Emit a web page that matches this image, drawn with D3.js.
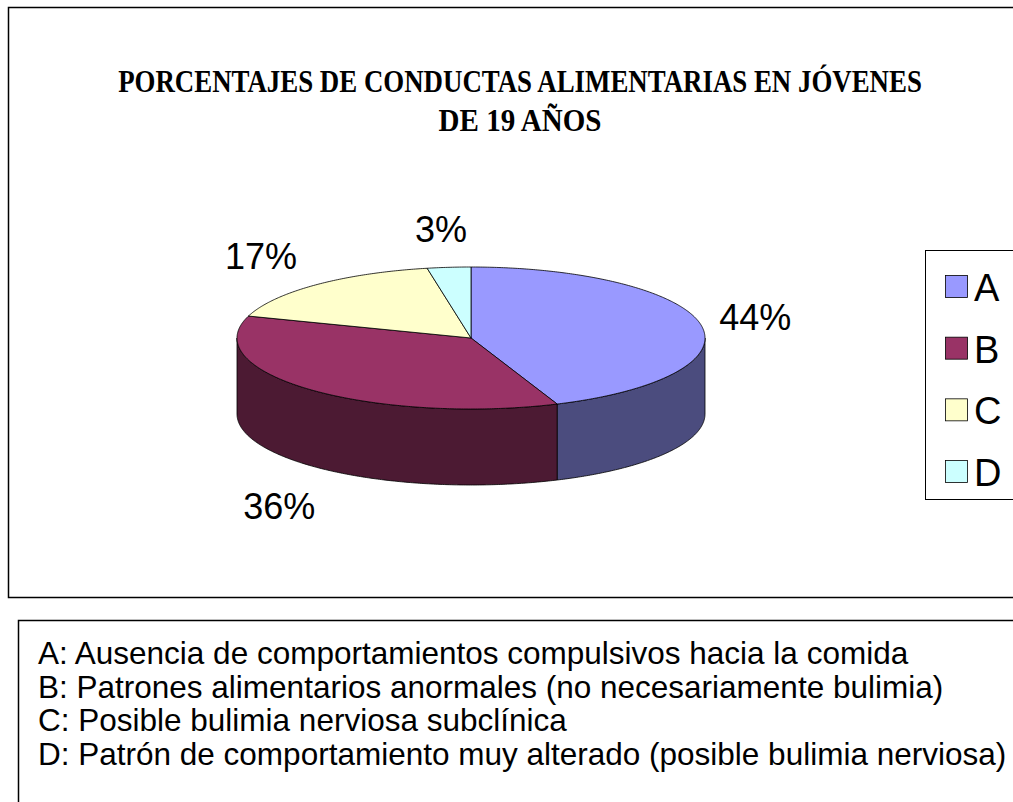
<!DOCTYPE html>
<html>
<head>
<meta charset="utf-8">
<script src="https://cdn.jsdelivr.net/npm/d3@7"></script>
<style>
  body { margin: 0; background: #fff; }
  svg { display: block; }
</style>
</head>
<body>
<script>
// data
var categories = ["A", "B", "C", "D"];
var values = [44, 36, 17, 3];
var topColors = ["#9999ff", "#993366", "#ffffcc", "#ccffff"];
var sideColors = ["#4b4c7e", "#4c1a33", "#80805f", "#668080"];
var titleLines = ["PORCENTAJES DE CONDUCTAS ALIMENTARIAS EN JÓVENES", "DE 19 AÑOS"];
var notes = [
  "A: Ausencia de comportamientos compulsivos hacia la comida",
  "B: Patrones alimentarios anormales (no necesariamente bulimia)",
  "C: Posible bulimia nerviosa subclínica",
  "D: Patrón de comportamiento muy alterado (posible bulimia nerviosa)"
];

var width = 1013, height = 802;

var svg = d3.select("body").append("svg")
  .attr("width", width)
  .attr("height", height);

// chart frame
svg.append("rect")
  .attr("x", 8.5).attr("y", 7.5)
  .attr("width", 1020).attr("height", 590)
  .attr("fill", "#fff").attr("stroke", "#000").attr("stroke-width", 1.5);

// title (condensed bold serif): squeeze horizontally to the width seen
var titleWidths = [804, 163];
svg.selectAll(".title")
  .data(titleLines)
  .enter().append("text")
  .attr("class", "title")
  .attr("text-anchor", "middle")
  .style("font-family", "'Liberation Serif', 'Times New Roman', serif")
  .style("font-weight", "bold")
  .style("font-size", "31px")
  .text(function(d) { return d; })
  .each(function(d, i) {
    var w = this.getComputedTextLength();
    var sx = titleWidths[i] / w;
    d3.select(this).attr("transform",
      "translate(520," + (92 + i * 39) + ") scale(" + sx + ",1)");
  });

// 3D pie
var cx = 471, cy = 338, rx = 234, ry = 71, depth = 76;

var pie = d3.pie().sort(null).value(function(d) { return d; });
var arcs = pie(values);

function pt(a, dy) {
  return [cx + rx * Math.sin(a), cy - ry * Math.cos(a) + (dy || 0)];
}

var line = d3.line();

function arcPoints(a0, a1, dy) {
  var n = Math.max(2, Math.ceil(Math.abs(a1 - a0) / 0.01));
  return d3.range(n + 1).map(function(i) {
    return pt(a0 + (a1 - a0) * i / n, dy);
  });
}

function topPath(d) {
  return line([[cx, cy]].concat(arcPoints(d.startAngle, d.endAngle, 0))) + "Z";
}

// front wall visible for angles between PI/2 and 3PI/2
function sidePath(d) {
  var a0 = Math.max(d.startAngle, Math.PI / 2);
  var a1 = Math.min(d.endAngle, 3 * Math.PI / 2);
  if (a1 <= a0) return null;
  var pts = arcPoints(a0, a1, 0).concat(arcPoints(a1, a0, depth));
  return line(pts) + "Z";
}

var g = svg.append("g");

g.selectAll(".side")
  .data(arcs.filter(function(d) { return sidePath(d) !== null; }))
  .enter().append("path")
  .attr("class", "side")
  .attr("d", sidePath)
  .attr("fill", function(d) { return sideColors[d.index]; })
  .attr("stroke", "#000")
  .attr("stroke-width", 0.8)
  .attr("stroke-linejoin", "round");

g.selectAll(".top")
  .data(arcs)
  .enter().append("path")
  .attr("class", "top")
  .attr("d", topPath)
  .attr("fill", function(d) { return topColors[d.index]; })
  .attr("stroke", "#000")
  .attr("stroke-width", 0.8)
  .attr("stroke-linejoin", "round");

// percentage labels
var total = d3.sum(values);
var labels = svg.selectAll(".lbl")
  .data(arcs)
  .enter().append("text")
  .attr("class", "lbl")
  .style("font-family", "'Liberation Sans', Arial, sans-serif")
  .style("font-size", "36px")
  .attr("text-anchor", "middle")
  .text(function(d) { return Math.round(d.data / total * 100) + "%"; });

labels.each(function(d) {
  var a = (d.startAngle + d.endAngle) / 2;
  var bb = this.getBBox();
  var s = Math.sin(a), c = Math.cos(a);
  var kx = rx + 10 + 50 * Math.max(0, c);
  var px = cx + kx * s + s * bb.width / 2;
  var py = cy - (ry + 18) * c - c * bb.height / 2 + (c < 0 ? depth + 12 : 0);
  d3.select(this).attr("x", px).attr("y", py + 13);
});

// legend
var legend = svg.append("g");
legend.append("rect")
  .attr("x", 925.5).attr("y", 250.5)
  .attr("width", 100).attr("height", 249)
  .attr("fill", "#fff").attr("stroke", "#000").attr("stroke-width", 1);

var ly = d3.scalePoint().domain(categories).range([287, 472]);

legend.selectAll(".sw")
  .data(categories)
  .enter().append("rect")
  .attr("x", 945.5)
  .attr("y", function(d) { return ly(d) - 11.5; })
  .attr("width", 22).attr("height", 22)
  .attr("fill", function(d, i) { return topColors[i]; })
  .attr("stroke", "#000").attr("stroke-width", 0.8);

legend.selectAll(".lt")
  .data(categories)
  .enter().append("text")
  .attr("x", 974)
  .attr("y", function(d) { return ly(d) + 14; })
  .style("font-family", "'Liberation Sans', Arial, sans-serif")
  .style("font-size", "38px")
  .text(function(d) { return d; });

// notes box
svg.append("rect")
  .attr("x", 18.5).attr("y", 620.5)
  .attr("width", 1010).attr("height", 190)
  .attr("fill", "#fff").attr("stroke", "#000").attr("stroke-width", 1.5);

svg.selectAll(".note")
  .data(notes)
  .enter().append("text")
  .attr("class", "note")
  .attr("x", 38)
  .attr("y", function(d, i) { return 664 + i * 33.5; })
  .style("font-family", "'Liberation Sans', Arial, sans-serif")
  .style("font-size", "31.5px")
  .text(function(d) { return d; });
</script>
</body>
</html>
